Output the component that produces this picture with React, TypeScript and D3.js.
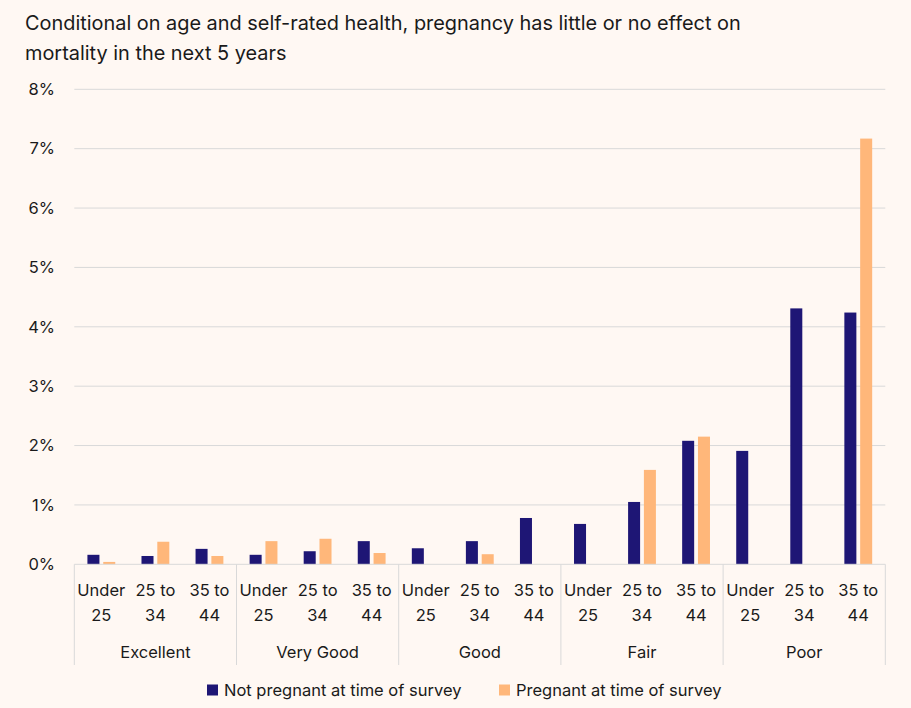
import { useEffect, useRef } from 'react';
import * as d3 from 'd3';

const healthGroups = ['Excellent', 'Very Good', 'Good', 'Fair', 'Poor'];
const ageGroups = [['Under', '25'], ['25 to', '34'], ['35 to', '44']];
const seriesNames = ['Not pregnant at time of survey', 'Pregnant at time of survey'];

// percent, in order Excellent (U25, 25-34, 35-44), Very Good, Good, Fair, Poor
const notPregnant = [0.16, 0.14, 0.26, 0.16, 0.22, 0.39, 0.27, 0.39, 0.78, 0.68, 1.05, 2.08, 1.91, 4.31, 4.24];
const pregnant = [0.04, 0.38, 0.14, 0.39, 0.43, 0.19, 0, 0.17, 0, 0, 1.59, 2.15, 0, 0, 7.17];

const yTicks = [0, 1, 2, 3, 4, 5, 6, 7, 8];

const colors = ['#1E1675', '#FFB77A'];
const FONT = 'Inter, "Open Sans", sans-serif';
const TEXT = '#1A1A1A';

export default function App() {
  const svgRef = useRef<SVGSVGElement>(null);
  const width = 911;
  const height = 708;

  useEffect(() => {
    if (!svgRef.current) return;
    const svg = d3.select(svgRef.current);
    svg.selectAll('*').remove();

    svg.append('rect')
      .attr('width', width)
      .attr('height', height)
      .attr('fill', '#FFF8F3');

    // Title
    const title = svg.append('text')
      .attr('x', 25)
      .attr('y', 30)
      .style('font-family', FONT)
      .style('font-size', '19.9px')
      .style('fill', TEXT);
    title.append('tspan').attr('x', 25).attr('dy', 0)
      .text('Conditional on age and self-rated health, pregnancy has little or no effect on');
    title.append('tspan').attr('x', 25).attr('dy', 29.5)
      .text('mortality in the next 5 years');

    const left = 74.3;
    const right = 885.3;
    const top = 89.3;
    const bottom = 564.3;

    const cats = d3.range(healthGroups.length * ageGroups.length);

    const x0 = d3.scaleBand<number>()
      .domain(cats)
      .range([left, right])
      .padding(0);

    const x1 = d3.scaleBand<number>()
      .domain([0, 1])
      .range([0, x0.bandwidth()])
      .paddingInner(0.24)
      .paddingOuter(0.83);

    const xg = d3.scaleBand<string>()
      .domain(healthGroups)
      .range([left, right])
      .padding(0);

    const y = d3.scaleLinear()
      .domain([0, 8])
      .range([bottom, top]);

    // Grid lines
    svg.selectAll('.grid')
      .data(yTicks.filter(d => d > 0))
      .enter()
      .append('line')
      .attr('x1', left)
      .attr('x2', right)
      .attr('y1', d => y(d))
      .attr('y2', d => y(d))
      .attr('stroke', '#D9D9D9')
      .attr('stroke-width', 1);

    // Y tick labels
    svg.selectAll('.ytick')
      .data(yTicks)
      .enter()
      .append('text')
      .attr('x', 55)
      .attr('y', d => y(d))
      .attr('dy', '0.35em')
      .attr('text-anchor', 'end')
      .style('font-family', FONT)
      .style('font-size', '16.5px')
      .style('fill', TEXT)
      .text(d => `${d}%`);

    // Bars
    const seriesData = [notPregnant, pregnant];
    seriesData.forEach((vals, si) => {
      svg.selectAll(`.bar-${si}`)
        .data(vals)
        .enter()
        .append('rect')
        .attr('x', (_d, i) => (x0(i) || 0) + (x1(si) || 0))
        .attr('y', d => y(d))
        .attr('width', x1.bandwidth())
        .attr('height', d => bottom - y(d))
        .attr('fill', colors[si]);
    });

    // Axis line
    svg.append('line')
      .attr('x1', left)
      .attr('x2', right)
      .attr('y1', bottom)
      .attr('y2', bottom)
      .attr('stroke', '#D9D9D9')
      .attr('stroke-width', 1);

    // Group separators
    const bounds = healthGroups.map(g => xg(g) || 0).concat([right]);
    svg.selectAll('.sep')
      .data(bounds)
      .enter()
      .append('line')
      .attr('x1', d => d)
      .attr('x2', d => d)
      .attr('y1', bottom)
      .attr('y2', 665)
      .attr('stroke', '#D9D9D9')
      .attr('stroke-width', 1);

    // Category labels
    const catLabels = svg.selectAll('.cat')
      .data(cats)
      .enter()
      .append('text')
      .attr('text-anchor', 'middle')
      .style('font-family', FONT)
      .style('font-size', '16.5px')
      .style('fill', TEXT);
    catLabels.append('tspan')
      .attr('x', d => (x0(d) || 0) + x0.bandwidth() / 2)
      .attr('y', 596)
      .text(d => ageGroups[d % ageGroups.length][0]);
    catLabels.append('tspan')
      .attr('x', d => (x0(d) || 0) + x0.bandwidth() / 2)
      .attr('y', 621)
      .text(d => ageGroups[d % ageGroups.length][1]);

    // Group labels
    svg.selectAll('.grp')
      .data(healthGroups)
      .enter()
      .append('text')
      .attr('x', d => (xg(d) || 0) + xg.bandwidth() / 2)
      .attr('y', 658)
      .attr('text-anchor', 'middle')
      .style('font-family', FONT)
      .style('font-size', '16.5px')
      .style('fill', TEXT)
      .text(d => d);

    // Legend
    const legendX = [207, 499];
    seriesNames.forEach((name, i) => {
      svg.append('rect')
        .attr('x', legendX[i])
        .attr('y', 684.5)
        .attr('width', 11)
        .attr('height', 11)
        .attr('fill', colors[i]);
      svg.append('text')
        .attr('x', legendX[i] + 17)
        .attr('y', 696)
        .style('font-family', FONT)
        .style('font-size', '16.5px')
        .style('fill', TEXT)
        .text(name);
    });
  }, []);

  return (
    <div style={{ position: 'absolute', left: 0, top: 0 }}>
      <svg ref={svgRef} width={width} height={height} style={{ display: 'block' }} />
    </div>
  );
}
